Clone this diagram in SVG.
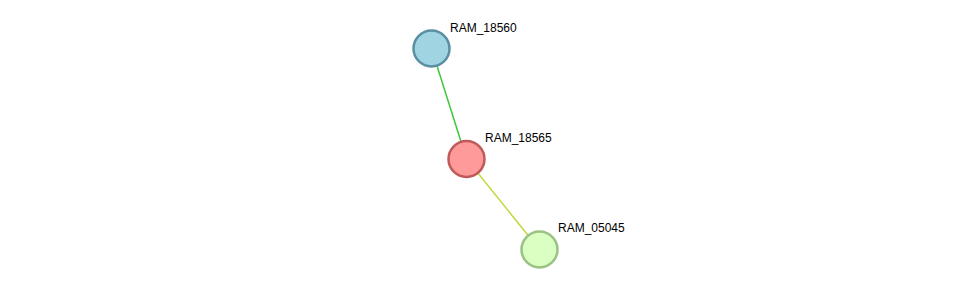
<svg xmlns="http://www.w3.org/2000/svg" width="976" height="295" viewBox="0 0 976 295">
<style>
.n{stroke-width:2.5}
.t{font-family:"Liberation Sans",Arial,sans-serif;font-size:12px;fill:#000}
.e{stroke-width:1.5;fill:none}
</style>
<rect width="976" height="295" fill="#fff"/>
<g id="connectors">
<line class="e" x1="431.5" y1="48.5" x2="466.5" y2="159" stroke="#3cc83c"/>
<line class="e" x1="466.5" y1="159" x2="539.5" y2="249.5" stroke="#c2d83c"/>
</g>
<g id="RAM_18560">
<circle class="n" cx="431.5" cy="48.5" r="18" fill="#a0d4e2" stroke="#5a8fa3"/>
<text class="t" x="450" y="32">RAM_18560</text>
</g>
<g id="RAM_18565">
<circle class="n" cx="466.5" cy="159" r="18" fill="#ff9a9a" stroke="#c05a5a"/>
<text class="t" x="485" y="142">RAM_18565</text>
</g>
<g id="RAM_05045">
<circle class="n" cx="539.5" cy="249.5" r="18" fill="#daffc2" stroke="#9ac283"/>
<text class="t" x="558" y="232">RAM_05045</text>
</g>
</svg>
